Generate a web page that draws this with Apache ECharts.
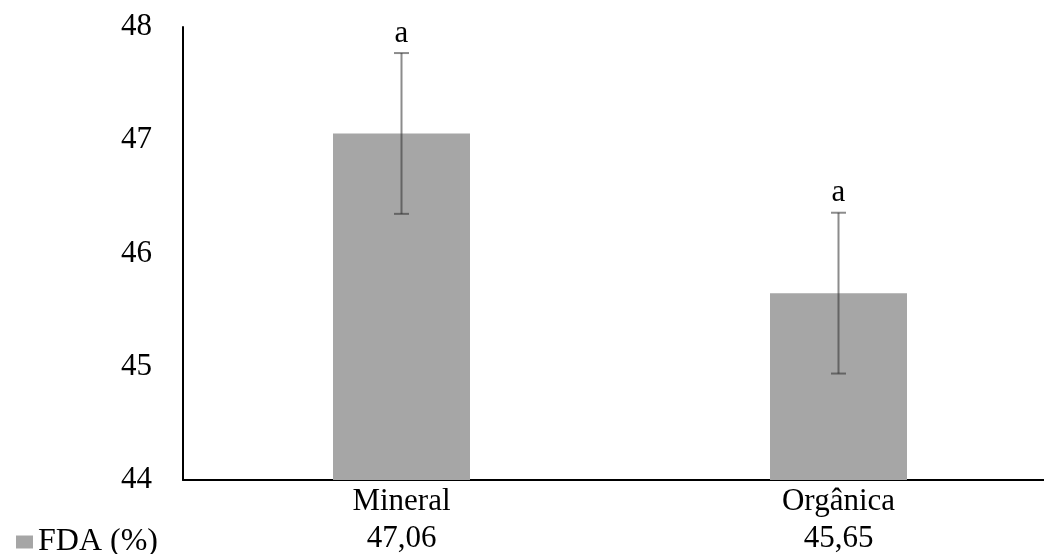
<!DOCTYPE html>
<html>
<head>
<meta charset="utf-8">
<script src="https://cdn.jsdelivr.net/npm/echarts@6/dist/echarts.min.js"></script>
<style>
html,body{margin:0;padding:0;background:#fff;overflow:hidden;width:1044px;height:554px;}
#chart{width:1057px;height:554px;}
</style>
</head>
<body>
<div id="chart"></div>
<script>
const categories = ['Mineral', 'Orgânica'];
const fdaValues = [47.06, 45.65];
const fdaErrors = [0.71, 0.71];
const letters = ['a', 'a'];
const seriesName = 'FDA (%)';
const yMin = 44, yMax = 48, yStep = 1;

const FONT = '"Liberation Serif", "Times New Roman", serif';
const fmt = v => v.toFixed(2).replace('.', ',');

const chart = echarts.init(document.getElementById('chart'), null, {renderer: 'canvas'});
chart.setOption({
  animation: false,
  backgroundColor: '#ffffff',
  grid: {left: 183, top: 27, right: 0, height: 453, containLabel: false},
  legend: {
    data: [{name: seriesName, icon: 'rect'}],
    left: 11, top: 521,
    itemWidth: 17, itemHeight: 13, itemGap: 8,
    textStyle: {fontFamily: FONT, fontSize: 32, color: '#000'}
  },
  xAxis: {
    type: 'category',
    data: categories,
    axisLine: {lineStyle: {color: '#000', width: 2}},
    axisTick: {show: false},
    axisLabel: {
      margin: 3,
      interval: 0,
      formatter: (val, idx) => '{n|' + val + '}\n{v|' + fmt(fdaValues[idx]) + '}',
      rich: {
        n: {fontFamily: FONT, fontSize: 31, color: '#000', lineHeight: 37},
        v: {fontFamily: FONT, fontSize: 31, color: '#000', lineHeight: 37}
      }
    }
  },
  yAxis: {
    type: 'value',
    min: yMin, max: yMax, interval: yStep,
    axisLine: {show: true, lineStyle: {color: '#000', width: 2}},
    axisTick: {show: false},
    splitLine: {show: false},
    axisLabel: {margin: 31, fontFamily: FONT, fontSize: 31, color: '#000'}
  },
  series: [
    {
      name: seriesName,
      type: 'bar',
      data: fdaValues,
      barWidth: 137,
      itemStyle: {color: '#a6a6a6'}
    },
    {
      name: 'err',
      type: 'custom',
      data: categories.map((c, i) => [i, fdaValues[i], fdaErrors[i]]),
      encode: {x: 0, y: 1},
      z: 10,
      renderItem: function (params, api) {
        const i = params.dataIndex;
        const x = api.value(0), v = api.value(1), e = api.value(2);
        const top = api.coord([x, v + e]);
        const bot = api.coord([x, v - e]);
        const hw = 7.5;
        const st = {stroke: 'rgba(45,45,45,0.55)', lineWidth: 2};
        return {
          type: 'group',
          children: [
            {type: 'line', shape: {x1: top[0], y1: top[1], x2: bot[0], y2: bot[1]}, style: st},
            {type: 'line', shape: {x1: top[0] - hw, y1: top[1], x2: top[0] + hw, y2: top[1]}, style: st},
            {type: 'line', shape: {x1: bot[0] - hw, y1: bot[1], x2: bot[0] + hw, y2: bot[1]}, style: st},
            {type: 'text', x: top[0], y: top[1] - 4,
             style: {text: letters[i], font: '31px ' + FONT, fill: '#000', align: 'center', verticalAlign: 'bottom'}}
          ]
        };
      }
    }
  ]
});
</script>
</body>
</html>
